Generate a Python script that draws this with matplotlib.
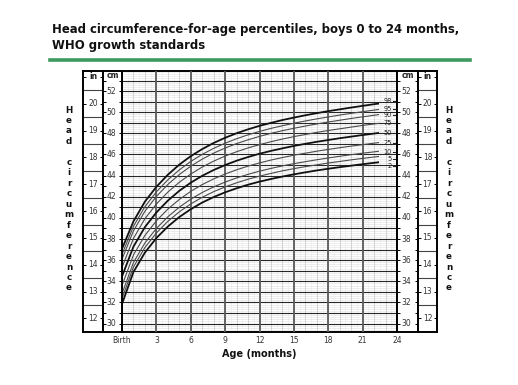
#!/usr/bin/env python3
"""
Perímetro cefálico para la edad, niños 0 a 24 meses (patrones OMS).
"""

import numpy as np
import matplotlib
matplotlib.use('Agg')
import matplotlib.pyplot as plt
from matplotlib.lines import Line2D
from matplotlib.patches import Rectangle

plt.rcParams['font.family'] = 'DejaVu Sans'

# Datos: percentiles (cm) por mes
meses = list(range(25))
p2 = [31.85, 34.88, 36.72, 38.09, 39.18, 40.08, 40.82, 41.45, 41.97, 42.42, 42.80, 43.14, 43.43,
      43.68, 43.91, 44.12, 44.31, 44.49, 44.65, 44.80, 44.94, 45.08, 45.21, 45.34, 45.46]
p5 = [32.37, 35.35, 37.20, 38.57, 39.67, 40.57, 41.32, 41.95, 42.48, 42.93, 43.32, 43.66, 43.95,
      44.21, 44.45, 44.66, 44.85, 45.02, 45.19, 45.34, 45.49, 45.63, 45.76, 45.89, 46.01]
p10 = [32.83, 35.78, 37.63, 39.00, 40.10, 41.01, 41.77, 42.40, 42.93, 43.39, 43.78, 44.12, 44.42,
       44.68, 44.92, 45.13, 45.32, 45.50, 45.67, 45.83, 45.98, 46.12, 46.25, 46.38, 46.51]
p25 = [33.60, 36.49, 38.34, 39.72, 40.83, 41.74, 42.51, 43.15, 43.69, 44.15, 44.55, 44.90, 45.20,
       45.47, 45.71, 45.93, 46.12, 46.31, 46.48, 46.64, 46.79, 46.93, 47.07, 47.21, 47.33]
p50 = [34.46, 37.28, 39.13, 40.51, 41.63, 42.56, 43.33, 43.98, 44.53, 45.00, 45.41, 45.76, 46.07,
       46.34, 46.58, 46.81, 47.01, 47.20, 47.37, 47.54, 47.69, 47.84, 47.98, 48.12, 48.25]
p75 = [35.32, 38.06, 39.92, 41.31, 42.44, 43.37, 44.15, 44.81, 45.37, 45.85, 46.26, 46.62, 46.93,
       47.21, 47.46, 47.69, 47.89, 48.09, 48.27, 48.43, 48.59, 48.75, 48.89, 49.03, 49.17]
p90 = [36.09, 38.77, 40.63, 42.03, 43.16, 44.10, 44.89, 45.56, 46.13, 46.61, 47.03, 47.39, 47.71,
       48.00, 48.25, 48.48, 48.69, 48.89, 49.07, 49.24, 49.41, 49.56, 49.71, 49.86, 50.00]
p95 = [36.55, 39.20, 41.06, 42.46, 43.60, 44.54, 45.34, 46.01, 46.58, 47.07, 47.49, 47.86, 48.18,
       48.47, 48.72, 48.96, 49.17, 49.37, 49.55, 49.73, 49.89, 50.05, 50.20, 50.35, 50.49]
p98 = [37.07, 39.67, 41.54, 42.94, 44.08, 45.04, 45.84, 46.51, 47.09, 47.58, 48.01, 48.38, 48.71,
       48.99, 49.26, 49.49, 49.71, 49.91, 50.10, 50.27, 50.44, 50.60, 50.76, 50.90, 51.05]

etiquetas_pct = ['2', '5', '10', '25', '50', '75', '90', '95', '98']
series_pct = [p2, p5, p10, p25, p50, p75, p90, p95, p98]
# altura (cm) donde va cada etiqueta a la derecha
pos_etiquetas = [44.95, 45.6, 46.25, 47.1, 48.0, 49.0, 49.7, 50.35, 51.05]

ticks_x = [0, 3, 6, 9, 12, 15, 18, 21, 24]
ticks_x_txt = ['Birth', '3', '6', '9', '12', '15', '18', '21', '24']

W, H = 518, 385
Y0, Y1 = 29.2, 53.9
FS = 5.5


def caja(x0, y0, x1, y1):
    return [x0 / W, 1 - y1 / H, (x1 - x0) / W, (y1 - y0) / H]


fig = plt.figure(figsize=(W / 100, H / 100), dpi=100)
fig.patch.set_facecolor('white')

# Título
fig.text(52 / W, 1 - 30 / H, 'Head circumference-for-age percentiles, boys 0 to 24 months,',
         fontsize=8.4, fontweight='bold', va='center', ha='left', color='#111111')
fig.text(52 / W, 1 - 46 / H, 'WHO growth standards',
         fontsize=8.4, fontweight='bold', va='center', ha='left', color='#111111')
fig.add_artist(Line2D([50 / W, 470 / W], [1 - 60 / H] * 2, color='#3d9a5e', lw=2.6))

# Área principal
ax = fig.add_axes(caja(122, 71, 397, 332))
ax.set_xlim(0, 24)
ax.set_ylim(Y0, Y1)

ax.hlines(np.arange(29.4, Y1, 0.2), 0, 24, color='#e6e6e6', lw=0.5, zorder=1)
ax.vlines(np.arange(0.5, 24, 1), Y0, Y1, color='#ececec', lw=0.5, zorder=1)
ax.vlines(np.arange(1, 24, 1), Y0, Y1, color='#c4c4c4', lw=0.5, zorder=2)
ax.hlines(np.arange(30, 54, 1), 0, 24, color='#262626', lw=0.8, zorder=3)
ax.vlines(np.arange(3, 24, 3), Y0, Y1, color='#5a5a5a', lw=1.3, zorder=3)

recorte = Rectangle((0, 0), 22.4, 100, transform=ax.transData)
for etq, serie in zip(etiquetas_pct, series_pct):
    grueso = etq in ('2', '50', '98')
    linea, = ax.plot(meses, serie, color='#111111' if grueso else '#4a4a4a',
                     lw=1.3 if grueso else 0.8, zorder=5, solid_capstyle='butt')
    linea.set_clip_path(recorte)

for etq, yv in zip(etiquetas_pct, pos_etiquetas):
    ax.text(23.55, yv, etq, ha='right', va='center', fontsize=4.8, color='#222222', zorder=6)
    ax.plot([23.65, 24], [yv, yv], color='#222222', lw=0.8, zorder=6, clip_on=False)

ax.set_xticks(ticks_x)
ax.set_xticklabels(ticks_x_txt, fontsize=FS, color='#333333')
ax.set_yticks([])
ax.tick_params(axis='x', length=0, pad=3)
ax.set_xlabel('Age (months)', fontsize=7, fontweight='bold', labelpad=3, color='#111111')
for s in ax.spines.values():
    s.set_linewidth(1.4)


def columna_cm(x0, x1):
    a = fig.add_axes(caja(x0, 71, x1, 332))
    a.set_xlim(0, 1)
    a.set_ylim(Y0, Y1)
    a.set_xticks([])
    a.set_yticks(range(30, 54))
    a.tick_params(axis='y', direction='in', length=2.5, width=0.7, left=True, right=True,
                  labelleft=False)
    for v in range(30, 54, 2):
        a.text(0.45, v, str(v), ha='center', va='center', fontsize=FS, color='#333333')
    a.text(0.5, 53.45, 'cm', ha='center', va='center', fontsize=FS, fontweight='bold',
           color='#222222')
    for s in a.spines.values():
        s.set_linewidth(1.4)
    return a


def columna_in(x0, x1):
    a = fig.add_axes(caja(x0, 71, x1, 332))
    a.set_xlim(0, 1)
    a.set_ylim(Y0 / 2.54, Y1 / 2.54)
    a.set_xticks([])
    a.set_yticks(range(12, 22))
    a.tick_params(axis='y', direction='in', length=2.5, width=0.7, left=True, right=True,
                  labelleft=False)
    a.hlines(np.arange(12.5, 21, 1), 0, 1, color='#444444', lw=0.8)
    for v in range(12, 21):
        a.text(0.5, v, str(v), ha='center', va='center', fontsize=FS, color='#333333')
    a.text(0.5, 21, 'in', ha='center', va='center', fontsize=FS, fontweight='bold',
           color='#222222')
    for s in a.spines.values():
        s.set_linewidth(1.4)
    return a


columna_in(83, 103)
columna_cm(103, 122)
columna_cm(397, 418)
columna_in(418, 437)

# Rótulo vertical a ambos lados
vertical = '\n'.join(list('Head') + [' '] + list('circumference'))
for xv in (69, 449):
    fig.text(xv / W, 1 - 199 / H, vertical, ha='center', va='center', fontsize=6.3,
             fontweight='bold', linespacing=1.21, color='#111111')

plt.savefig('out.png', dpi=100)
plt.close()
